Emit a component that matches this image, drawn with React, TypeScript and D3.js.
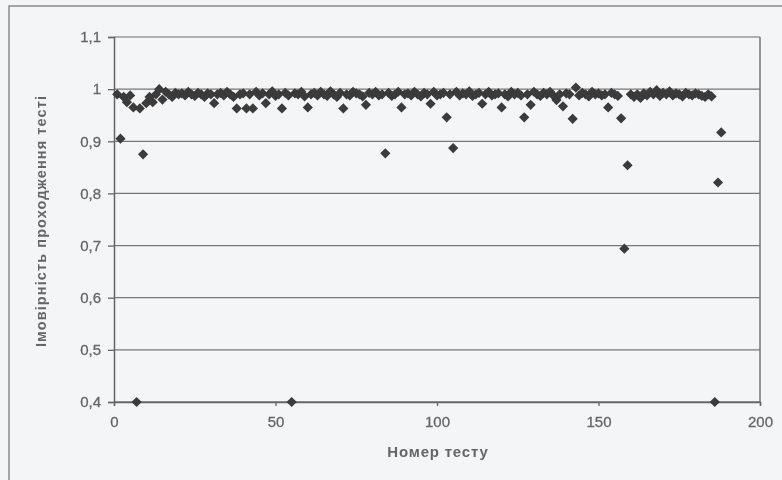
import React, { useEffect, useRef } from 'react';
import * as d3 from 'd3';

// ймовірність проходження для тестів 1..188
const passProbability = [
  0.99, 0.905, 0.985, 0.975, 0.988, 0.965, 0.4, 0.963, 0.875, 0.973,
  0.985, 0.975, 0.99, 1.0, 0.98, 0.995, 0.99, 0.985, 0.993, 0.99,
  0.992, 0.988, 0.995, 0.99, 0.987, 0.993, 0.99, 0.985, 0.992, 0.99,
  0.973, 0.99, 0.993, 0.988, 0.995, 0.99, 0.985, 0.963, 0.99, 0.992,
  0.963, 0.99, 0.963, 0.995, 0.988, 0.992, 0.973, 0.99, 0.996, 0.987,
  0.99, 0.963, 0.993, 0.988, 0.4, 0.992, 0.99, 0.995, 0.986, 0.965,
  0.99, 0.993, 0.988, 0.995, 0.99, 0.987, 0.996, 0.99, 0.985, 0.993,
  0.963, 0.99, 0.988, 0.995, 0.992, 0.99, 0.986, 0.97, 0.993, 0.99,
  0.995, 0.988, 0.99, 0.877, 0.993, 0.987, 0.99, 0.995, 0.965, 0.99,
  0.992, 0.988, 0.995, 0.99, 0.986, 0.993, 0.99, 0.972, 0.995, 0.988,
  0.99, 0.993, 0.946, 0.99, 0.887, 0.995, 0.988, 0.992, 0.99, 0.996,
  0.987, 0.99, 0.993, 0.972, 0.99, 0.995, 0.988, 0.99, 0.992, 0.965,
  0.99, 0.986, 0.995, 0.99, 0.993, 0.988, 0.946, 0.99, 0.97, 0.995,
  0.99, 0.987, 0.993, 0.99, 0.995, 0.988, 0.979, 0.99, 0.967, 0.992,
  0.99, 0.943, 1.003, 0.988, 0.993, 0.99, 0.986, 0.995, 0.99, 0.992,
  0.988, 0.99, 0.965, 0.993, 0.99, 0.987, 0.944, 0.694, 0.854, 0.99,
  0.985, 0.99, 0.983, 0.992, 0.988, 0.995, 0.99, 0.998, 0.987, 0.993,
  0.99, 0.996, 0.988, 0.992, 0.99, 0.986, 0.993, 0.99, 0.988, 0.992,
  0.99, 0.987, 0.985, 0.99, 0.986, 0.4, 0.821, 0.917
];

const xTicks = [0, 50, 100, 150, 200];
const yTicks = [0.4, 0.5, 0.6, 0.7, 0.8, 0.9, 1.0, 1.1];

const App = () => {
  const ref = useRef<SVGSVGElement>(null);

  useEffect(() => {
    const width = 782;
    const height = 480;
    const margin = { top: 37, right: 22, bottom: 78, left: 114 };
    const innerWidth = width - margin.left - margin.right;
    const innerHeight = height - margin.top - margin.bottom;
    const font = 'Liberation Sans, Arial, sans-serif';

    const svg = d3.select(ref.current);
    svg.selectAll('*').remove();

    const defs = svg.append('defs');
    defs.append('filter').attr('id', 'scan')
      .append('feGaussianBlur').attr('stdDeviation', 0.7);

    svg.append('rect').attr('width', width).attr('height', height).attr('fill', '#f4f5f7');

    const root = svg.append('g').attr('filter', 'url(#scan)');

    // рамка діаграми
    root.append('rect')
      .attr('x', 9).attr('y', 6)
      .attr('width', width + 20).attr('height', height + 20)
      .attr('fill', 'none').attr('stroke', '#8a8a8a').attr('stroke-width', 1.5);

    const chart = root.append('g').attr('transform', `translate(${margin.left}, ${margin.top})`);

    const xScale = d3.scaleLinear().domain([0, 200]).range([0, innerWidth]);
    const yScale = d3.scaleLinear().domain([0.4, 1.1]).range([innerHeight, 0]);

    // горизонтальна сітка
    chart.selectAll('.grid').data(yTicks).join('line').attr('class', 'grid')
      .attr('x1', 0).attr('x2', innerWidth)
      .attr('y1', d => yScale(d)).attr('y2', d => yScale(d))
      .attr('stroke', d => (d === 1.1 ? '#9a9a9a' : '#777'))
      .attr('stroke-width', 1.3);

    chart.append('line')
      .attr('x1', innerWidth).attr('x2', innerWidth).attr('y1', 0).attr('y2', innerHeight)
      .attr('stroke', '#777').attr('stroke-width', 1.5);

    const yAxis = d3.axisLeft(yScale).tickValues(yTicks).tickSize(6).tickPadding(7)
      .tickFormat(d => d3.format('.1f')(d as number).replace('.', ',').replace(',0', ''));
    const xAxis = d3.axisBottom(xScale).tickValues(xTicks).tickSize(4).tickPadding(10);

    const yG = chart.append('g').call(yAxis);
    const xG = chart.append('g').attr('transform', `translate(0, ${innerHeight})`).call(xAxis);

    [yG, xG].forEach(g => {
      g.select('.domain').attr('stroke', '#666').attr('stroke-width', 1.5);
      g.selectAll('.tick line').attr('stroke', '#666').attr('stroke-width', 1.3);
      g.selectAll('.tick text')
        .attr('fill', '#666')
        .attr('stroke', '#666').attr('stroke-width', 0.3)
        .style('font-family', font)
        .style('font-size', '15px');
    });

    const diamond = d3.symbol().type(d3.symbolSquare).size(52);

    chart.selectAll('.pt').data(passProbability).join('path').attr('class', 'pt')
      .attr('d', diamond)
      .attr('transform', (d, i) => `translate(${xScale(i + 1)}, ${yScale(d)}) rotate(45)`)
      .attr('fill', '#3a3a3a');

    root.append('text')
      .attr('text-anchor', 'middle')
      .attr('x', 438)
      .attr('y', 457)
      .style('font-family', font)
      .style('font-size', '15px')
      .style('font-weight', 'bold')
      .style('letter-spacing', '0.8px')
      .attr('fill', '#666')
      .text('Номер тесту');

    root.append('text')
      .attr('text-anchor', 'middle')
      .attr('transform', 'rotate(-90)')
      .attr('x', -221)
      .attr('y', 46)
      .style('font-family', font)
      .style('font-size', '14.5px')
      .style('font-weight', 'bold')
      .style('letter-spacing', '1.1px')
      .attr('fill', '#666')
      .text('Імовірність проходження тесті');
  }, []);

  return (
    <svg ref={ref} width={782} height={480} style={{ position: 'absolute', left: 0, top: 0 }} />
  );
};

export default App;
